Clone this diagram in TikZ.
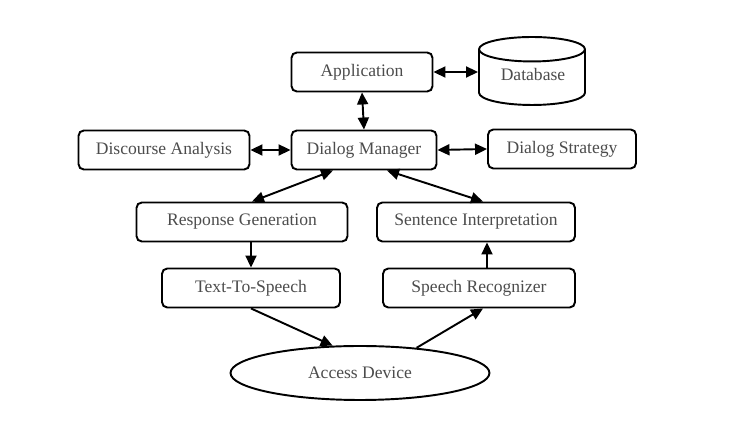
\documentclass[tikz,border=0pt]{standalone}
\usepackage{fontspec}
\setmainfont{Liberation Serif}
\usepackage{tikz}
\usetikzlibrary{arrows.meta,shapes.geometric}
\tikzset{%
  every module/.style={
    rectangle,
    rounded corners=3pt,
    draw,
    line width=1.1pt,
    inner sep=0pt,
    minimum height=0.78cm,
    text=black!70,
    font=\fontsize{10}{12}\selectfont
  },
  store/.style={
    every module,
    cylinder,
    rounded corners=0pt,
    shape border rotate=90,
    aspect=0.38,
    minimum width=2.12cm,
    minimum height=1.36cm
  },
  store text/.style={
    text=black!70,
    font=\fontsize{10}{12}\selectfont
  },
  device/.style={
    every module,
    ellipse,
    rounded corners=0pt,
    minimum width=5.18cm,
    minimum height=1.08cm
  },
  link/.style={
    line width=1.1pt
  },
}

\begin{document}
\begin{tikzpicture}[> = {Triangle[length=0.24cm,width=0.22cm]}, x=0.02cm, y=-0.02cm]
\useasboundingbox (0,0) rectangle (754,421);
    \node[every module, minimum width=2.82cm] (app) at (362,72) {Application};
    \node[store, anchor=shape center] (db) at (532,71) {\phantom{Database}};
    \node[store text] (dbname) at (533,74) {Database};

    \node[every module, minimum width=3.42cm] (da) at (164,150) {Discourse Analysis};
    \node[every module, minimum width=2.90cm] (dm) at (364,150) {Dialog Manager};
    \node[every module, minimum width=2.96cm] (ds) at (562,149) {Dialog Strategy};

    \node[every module, minimum width=4.22cm] (rg) at (242,222) {Response Generation};
    \node[every module, minimum width=3.96cm] (si) at (476,222) {Sentence Interpretation};

    \node[every module, minimum width=3.56cm] (tts) at (251,288) {Text-To-Speech};
    \node[every module, minimum width=3.84cm] (sr) at (479,288) {Speech Recognizer};

    \node[device] (ad) at (360,373) {Access Device};

    % links to the dialog manager
    \draw[link, <->]  (app.east) -- (app.east -| db.west);
    \draw[link, <->]  (app.south) -- (dm.north);
    \draw[link, <->]  (da.east) -- (dm.west);
    \draw[link, <->]  (dm.east) -- (ds.west);
    \draw[link, <->]  ([xshift=-0.62cm]dm.south) -- ([xshift=0.2cm]rg.north);
    \draw[link, <->]  ([xshift=0.46cm]dm.south) -- ([xshift=0.14cm]si.north);

    % speech path
    \draw[link, ->]  (rg.south -| tts.north) -- (tts.north);
    \draw[link, ->]  ([xshift=0.16cm]sr.north) -- ([xshift=0.16cm]sr.north |- si.south);
    \draw[link, ->]  (tts.south) -- (ad.135);
    \draw[link, ->]  (ad.24) -- ([xshift=0.08cm]sr.south);
\end{tikzpicture}
\end{document}
